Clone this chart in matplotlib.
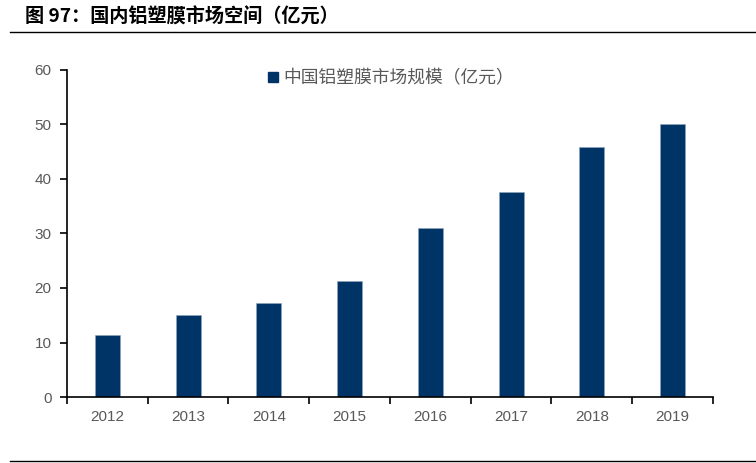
import matplotlib
matplotlib.use("Agg")
import matplotlib.pyplot as plt
from matplotlib.lines import Line2D
from matplotlib.ticker import FixedLocator

plt.rcParams['font.family'] = ['Liberation Sans', 'Noto Sans CJK SC', 'DejaVu Sans']

# 数据
years = ['2012', '2013', '2014', '2015', '2016', '2017', '2018', '2019']
market_size = [11.4, 15.0, 17.2, 21.2, 31.0, 37.6, 45.9, 50.1]
y_ticks = [0, 10, 20, 30, 40, 50, 60]

title = '图 97：国内铝塑膜市场空间（亿元）'
legend_label = '中国铝塑膜市场规模（亿元）'

bar_color = '#003366'
text_color = '#595959'

fig = plt.figure(figsize=(7.56, 4.63), dpi=100)
ax = fig.add_axes([0.0886, 0.1425, 0.8545, 0.7065])

x = list(range(len(years)))
ax.bar(x, market_size, width=0.31, color=bar_color, edgecolor='#8fa6c0', linewidth=0.4)

ax.set_xlim(-0.5, len(years) - 0.5)
ax.set_ylim(0, 60)
ax.set_yticks(y_ticks)
ax.set_yticklabels([str(t) for t in y_ticks], fontsize=11, color=text_color)
ax.set_xticks(x)
ax.set_xticklabels(years, fontsize=11, color=text_color)
ax.tick_params(axis='x', which='major', length=0, pad=9)
ax.xaxis.set_minor_locator(FixedLocator([i - 0.5 for i in range(len(years) + 1)]))
ax.tick_params(axis='x', which='minor', length=5, width=1.2, direction='out', color='black')
ax.tick_params(axis='y', length=5, width=1.2, direction='out', color='black', pad=6)

for side in ['top', 'right']:
    ax.spines[side].set_visible(False)
for side in ['left', 'bottom']:
    ax.spines[side].set_linewidth(1.2)
    ax.spines[side].set_color('black')

# 图例
handle = Line2D([], [], marker='s', linestyle='none', color=bar_color, markersize=7)
leg = ax.legend([handle], [legend_label], loc='upper left', bbox_to_anchor=(0.28, 1.05),
                frameon=False, handletextpad=0.1, handlelength=1.0,
                prop={'family': ['Noto Sans CJK SC', 'DejaVu Sans'], 'size': 12.8})
for t in leg.get_texts():
    t.set_color(text_color)

# 标题和分隔线
fig.text(0.033, 0.963, title, fontsize=13.8, fontweight='bold', color='black',
         family=['Noto Sans CJK SC', 'DejaVu Sans'], va='center', ha='left')
fig.add_artist(Line2D([0.013, 1.0], [0.931, 0.931], color='black', linewidth=1.0,
                      transform=fig.transFigure))
fig.add_artist(Line2D([0.013, 1.0], [0.004, 0.004], color='black', linewidth=1.0,
                      transform=fig.transFigure))

fig.savefig('out.png', dpi=100)
